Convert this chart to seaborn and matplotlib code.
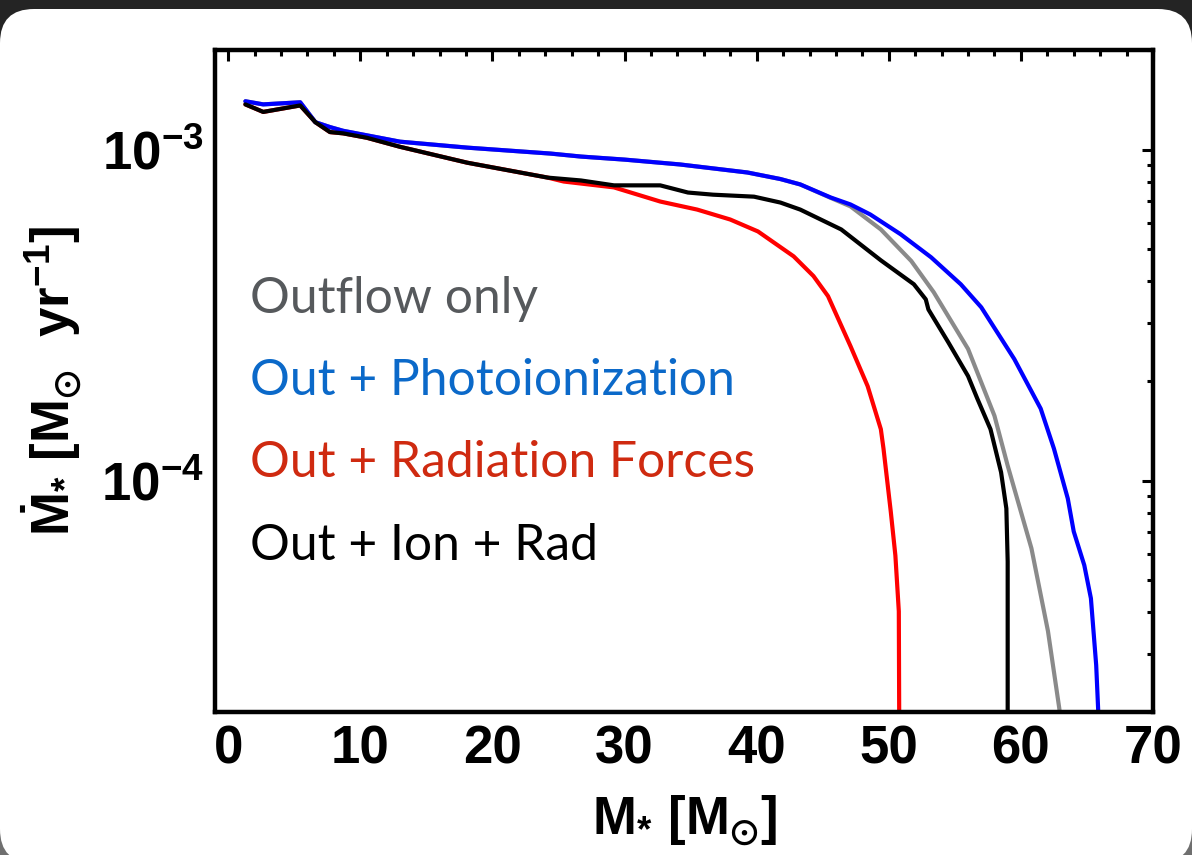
import numpy as np
import pandas as pd
import matplotlib
matplotlib.use("Agg")
import matplotlib.pyplot as plt
import seaborn as sns
from matplotlib.patches import FancyBboxPatch, Rectangle
from matplotlib.transforms import IdentityTransform
from matplotlib.ticker import MultipleLocator, LogLocator, NullFormatter

# Stellar mass [Msun] and accretion rate [Msun/yr] for each model
mass_outflow = [1.3, 2.65, 5.45, 6.6, 7.7, 8.7, 13.0, 18.1, 24.4, 26.7, 30.0, 34.2,
                39.3, 41.8, 43.3, 45.6, 47.1, 49.4, 51.7, 53.4, 56.0, 58.0, 59.0,
                60.8, 62.05, 62.9, 63.2]
mdot_outflow = [1.40e-3, 1.37e-3, 1.39e-3, 1.21e-3, 1.17e-3, 1.14e-3, 1.057e-3,
                1.014e-3, 9.73e-4, 9.53e-4, 9.33e-4, 9.02e-4, 8.53e-4, 8.15e-4,
                7.85e-4, 7.15e-4, 6.74e-4, 5.74e-4, 4.61e-4, 3.71e-4, 2.50e-4,
                1.57e-4, 1.11e-4, 6.24e-5, 3.51e-5, 2.06e-5, 1.65e-5]

mass_photo = [1.3, 2.65, 5.45, 6.6, 7.7, 8.7, 13.0, 18.1, 24.4, 26.7, 30.0, 34.2,
              39.3, 41.8, 43.3, 45.6, 47.1, 48.6, 50.9, 53.2, 55.45, 57.0, 59.5,
              61.5, 62.5, 63.55, 64.0, 64.8, 65.3, 65.7, 65.85, 65.9]
mdot_photo = [1.40e-3, 1.37e-3, 1.39e-3, 1.21e-3, 1.17e-3, 1.14e-3, 1.057e-3,
              1.014e-3, 9.73e-4, 9.53e-4, 9.33e-4, 9.02e-4, 8.53e-4, 8.15e-4,
              7.85e-4, 7.17e-4, 6.83e-4, 6.37e-4, 5.55e-4, 4.73e-4, 3.92e-4,
              3.34e-4, 2.33e-4, 1.65e-4, 1.25e-4, 8.83e-5, 7.02e-5, 5.55e-5,
              4.41e-5, 2.77e-5, 2.03e-5, 1.5e-5]

mass_radforce = [1.3, 2.65, 5.45, 6.6, 7.7, 8.7, 10.5, 13.0, 18.1, 24.2, 25.4, 29.2,
                 32.7, 35.5, 38.0, 40.1, 42.8, 44.3, 45.4, 47.1, 48.4, 49.4, 49.6,
                 50.15, 50.5, 50.76, 50.8]
mdot_radforce = [1.37e-3, 1.30e-3, 1.36e-3, 1.21e-3, 1.13e-3, 1.12e-3, 1.086e-3,
                 1.02e-3, 9.13e-4, 8.23e-4, 8.01e-4, 7.69e-4, 6.97e-4, 6.59e-4,
                 6.15e-4, 5.66e-4, 4.76e-4, 4.15e-4, 3.61e-4, 2.55e-4, 1.93e-4,
                 1.43e-4, 1.25e-4, 8.07e-5, 5.94e-5, 4.03e-5, 1.5e-5]

mass_all = [1.3, 2.65, 5.45, 6.6, 7.7, 8.7, 10.5, 13.0, 18.1, 24.2, 26.7, 29.2, 32.7,
            34.8, 36.7, 39.8, 41.8, 43.3, 46.4, 49.4, 51.9, 52.8, 53.0, 54.5, 56.0,
            56.7, 57.7, 58.5, 58.9, 59.0, 59.0]
mdot_all = [1.37e-3, 1.30e-3, 1.36e-3, 1.21e-3, 1.13e-3, 1.12e-3, 1.086e-3, 1.02e-3,
            9.13e-4, 8.23e-4, 8.07e-4, 7.80e-4, 7.80e-4, 7.42e-4, 7.31e-4, 7.21e-4,
            6.92e-4, 6.59e-4, 5.74e-4, 4.63e-4, 3.92e-4, 3.53e-4, 3.29e-4, 2.62e-4,
            2.07e-4, 1.77e-4, 1.43e-4, 1.06e-4, 8.24e-5, 5.70e-5, 1.5e-5]

labels = ["Out + Radiation Forces", "Outflow only", "Out + Photoionization",
          "Out + Ion + Rad"]
line_colors = ["#ff0000", "#8a8a8a", "#0000ff", "#000000"]
text_colors = {"Outflow only": "#56595c", "Out + Photoionization": "#0b69c9",
               "Out + Radiation Forces": "#cf2a10", "Out + Ion + Rad": "#000000"}
x_ticks = [0, 10, 20, 30, 40, 50, 60, 70]
y_ticks = [1e-4, 1e-3]
y_tick_labels = [r"$\mathbf{10^{-4}}$", r"$\mathbf{10^{-3}}$"]

series = {
    "Out + Radiation Forces": (mass_radforce, mdot_radforce),
    "Outflow only": (mass_outflow, mdot_outflow),
    "Out + Photoionization": (mass_photo, mdot_photo),
    "Out + Ion + Rad": (mass_all, mdot_all),
}
df = pd.concat(
    [pd.DataFrame({"mass": m, "mdot": r, "model": name})
     for name, (m, r) in series.items()],
    ignore_index=True,
)

sns.set_theme(style="white")
plt.rcParams["font.family"] = ["Liberation Sans", "DejaVu Sans"]
plt.rcParams["mathtext.fontset"] = "custom"
plt.rcParams["mathtext.fallback"] = "stixsans"
for key in ("rm", "bf", "it", "sf"):
    plt.rcParams["mathtext." + key] = "Liberation Sans:bold"
for key in ("text.color", "axes.labelcolor", "xtick.color", "ytick.color"):
    plt.rcParams[key] = "black"

W, H = 1192, 855
fig = plt.figure(figsize=(W / 100, H / 100), dpi=100, facecolor="#242424")

# rounded white card on a dark frame
fig.add_artist(Rectangle((0, 0), W, 420, transform=IdentityTransform(),
                         facecolor="#6f6f6f", edgecolor="none", zorder=-3))
fig.add_artist(FancyBboxPatch((0, -8), W, H - 9 + 8,
                              boxstyle="round,pad=0,rounding_size=34",
                              transform=IdentityTransform(),
                              facecolor="white", edgecolor="none", zorder=-2))

ax = fig.add_axes([215 / W, (H - 712) / H, (1153 - 215) / W, (712 - 50) / H])
ax.set_facecolor("white")

sns.lineplot(data=df, x="mass", y="mdot", hue="model", hue_order=labels,
             palette=line_colors, sort=False, estimator=None, lw=3.0,
             legend=False, ax=ax)

ax.set_yscale("log")
ax.set_xlim(-1, 70)
ax.set_ylim(2e-5, 2e-3)

ax.set_xticks(x_ticks)
ax.set_xticklabels([str(v) for v in x_ticks], fontsize=38, fontweight="bold")
ax.xaxis.set_minor_locator(MultipleLocator(2))
ax.set_yticks(y_ticks)
ax.set_yticklabels(y_tick_labels, fontsize=38)
ax.yaxis.set_minor_locator(LogLocator(base=10, subs=np.arange(2, 10)))
ax.yaxis.set_minor_formatter(NullFormatter())

ax.tick_params(which="both", direction="in", top=True, right=True, width=2.2,
               color="black", labelcolor="black")
ax.tick_params(which="major", length=8)
ax.tick_params(which="minor", length=4.5)
ax.tick_params(axis="x", which="major", pad=9)
ax.tick_params(axis="y", which="major", pad=8)
for sp in ax.spines.values():
    sp.set_linewidth(3.2)
    sp.set_color("black")

ax.set_xlabel(r"$\mathbf{M_{*}\ [M_{\odot}]}$", fontsize=38, labelpad=14,
              color="black")
ax.set_ylabel(r"$\mathbf{\dot{M}_{*}\ [M_{\odot}\ \ yr^{-1}]}$", fontsize=38,
              labelpad=12, color="black")

# model labels inside the axes
label_rows = [("Outflow only", 0.6027), ("Out + Photoionization", 0.4789),
              ("Out + Radiation Forces", 0.355), ("Out + Ion + Rad", 0.2296)]
for name, yy in label_rows:
    ax.text(0.037, yy, name, transform=ax.transAxes, fontsize=35.8,
            family=["Lato", "DejaVu Sans"], color=text_colors[name],
            va="baseline", ha="left")

fig.savefig("out.png", dpi=100, facecolor=fig.get_facecolor())
